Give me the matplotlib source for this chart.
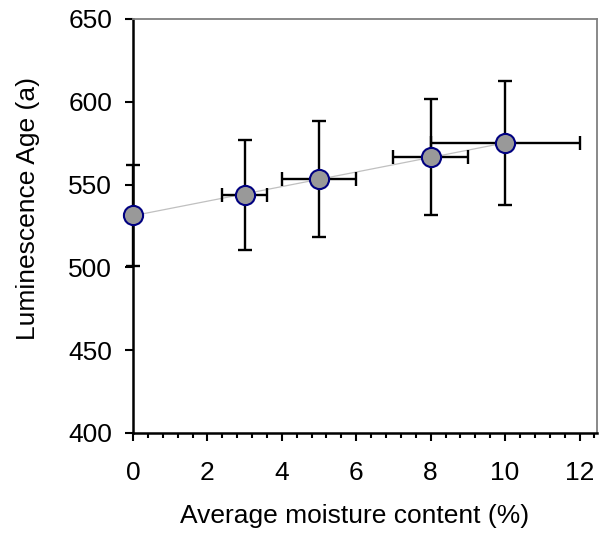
import numpy as np
import matplotlib
matplotlib.use("Agg")
import matplotlib.pyplot as plt
from matplotlib.ticker import MultipleLocator

moisture = [0, 3, 5, 8, 10]
age = [531.5, 543.7, 553.4, 566.8, 575.0]
age_err = [30.5, 33.0, 35.0, 35.0, 37.5]
moisture_err = [0, 0.6, 1.0, 1.0, 2.0]

xlabel = "Average moisture content (%)"
ylabel = "Luminescence Age (a)"

plt.rcParams['font.family'] = ['Liberation Sans', 'DejaVu Sans']

fig = plt.figure(figsize=(6.01, 5.45), dpi=100)
ax = fig.add_axes([133/601, 1-433/545, (597-133)/601, (433-19)/545])

# trend line (linear fit)
coef = np.polyfit(moisture, age, 1)
xs = np.array([min(moisture), max(moisture)])
ax.plot(xs, np.polyval(coef, xs), color='#c0c0c0', lw=0.9, zorder=2)

ax.errorbar(moisture, age, yerr=age_err, xerr=moisture_err, fmt='none',
            ecolor='black', elinewidth=1.7, capsize=4.7, capthick=1.7, zorder=3,
            clip_on=False)
ax.plot(moisture, age, 'o', ms=13.8, mfc='#999999', mec='#000080', mew=1.5,
        zorder=4, clip_on=False)

ax.set_xlim(0, 12.47)
ax.set_ylim(400, 650)
ax.xaxis.set_major_locator(MultipleLocator(2))
ax.xaxis.set_minor_locator(MultipleLocator(0.4))
ax.yaxis.set_major_locator(MultipleLocator(50))

for s in ['left', 'bottom']:
    ax.spines[s].set_color('black')
    ax.spines[s].set_linewidth(1.8)
for s in ['top', 'right']:
    ax.spines[s].set_color('#808080')
    ax.spines[s].set_linewidth(1.3)

ax.tick_params(axis='both', which='major', direction='out', length=6,
               width=1.5, labelsize=19, colors='black')
ax.tick_params(axis='y', which='major', pad=9)
ax.tick_params(axis='x', which='major', pad=14)
ax.tick_params(axis='x', which='minor', direction='out', length=3.6, width=1.5)
ax.tick_params(axis='y', which='minor', length=0)

ax.set_xlabel(xlabel, fontsize=19, va='center')
ax.set_ylabel(ylabel, fontsize=19, va='center')
ax.xaxis.set_label_coords((355-133)/464, (433-516)/414)
ax.yaxis.set_label_coords((28-133)/464, (433-209)/414)

fig.savefig("out.png", dpi=100)
